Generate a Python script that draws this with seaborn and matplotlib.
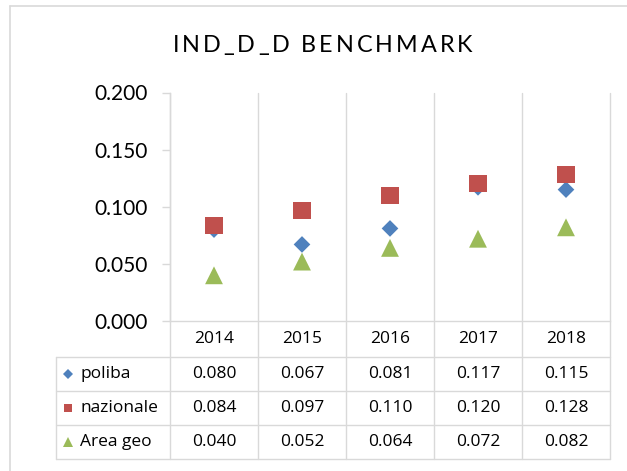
import matplotlib
matplotlib.use("Agg")
import matplotlib.pyplot as plt
import matplotlib.transforms as mtransforms
from matplotlib.lines import Line2D
from matplotlib.font_manager import FontProperties
import numpy as np
import pandas as pd
import seaborn as sns

# ---- data -------------------------------------------------------------
years = ["2014", "2015", "2016", "2017", "2018"]
series_names = ["poliba", "nazionale", "Area geo"]
poliba = [0.080, 0.067, 0.081, 0.117, 0.115]
nazionale = [0.084, 0.097, 0.110, 0.120, 0.128]
area_geo = [0.040, 0.052, 0.064, 0.072, 0.082]
y_ticks = [0.000, 0.050, 0.100, 0.150, 0.200]
title_text = "IND_D_D BENCHMARK"

# ---- style ------------------------------------------------------------
colors = {"poliba": "#4F81BD", "nazionale": "#C0504D", "Area geo": "#9BBB59"}
markers = {"poliba": "D", "nazionale": "s", "Area geo": "^"}
sizes = {"poliba": 72, "nazionale": 150, "Area geo": 165}
grid_col = "#D9D9D9"

sns.set_theme(style="white")
plt.rcParams["font.family"] = ["Lato", "DejaVu Sans"]
table_font = ["Open Sans", "DejaVu Sans"]

W, H = 627, 471
fig = plt.figure(figsize=(W / 100, H / 100), dpi=100)
fig.patch.set_facecolor("white")


def fx(px):
    return px / W


def fy(py):
    return 1 - py / H


# plot area in pixel coordinates
AX_L, AX_R, AX_T, AX_B = 170, 610, 92.5, 321
ax = fig.add_axes([fx(AX_L), fy(AX_B), (AX_R - AX_L) / W, (AX_B - AX_T) / H])
ax.set_facecolor("white")

values = {"poliba": poliba, "nazionale": nazionale, "Area geo": area_geo}
df = pd.DataFrame({
    "pos": np.tile(np.arange(len(years)), len(series_names)),
    "value": np.concatenate([values[s] for s in series_names]),
    "serie": np.repeat(series_names, len(years)),
})

sns.scatterplot(data=df, x="pos", y="value", hue="serie", style="serie",
                size="serie", palette=colors, markers=markers, sizes=sizes,
                linewidth=0, legend=False, ax=ax, zorder=5, clip_on=False)

ax.set_xlim(-0.5, len(years) - 0.5)
ax.set_ylim(0, 0.2)
ax.set_xticks([])
ax.set_yticks(y_ticks)
ax.set_yticklabels([f"{v:.3f}" for v in y_ticks])
ax.set_xlabel("")
ax.set_ylabel("")
ax.tick_params(axis="y", length=5.8, width=1.0, color=grid_col,
               labelsize=15, pad=10, left=True, labelcolor="black")
for side in ["top", "right"]:
    ax.spines[side].set_visible(False)
for side in ["left", "bottom"]:
    ax.spines[side].set_color(grid_col)
    ax.spines[side].set_linewidth(1.0)

# ---- data table -------------------------------------------------------
ROW_LINES = [357, 391, 425, 459]   # pixel rows of the table grid
TABLE_L = 56
px_h = AX_B - AX_T
yb = (AX_B - ROW_LINES[-1]) / px_h
trans = mtransforms.blended_transform_factory(ax.transData, ax.transAxes)
for i in range(len(years) + 1):
    ax.plot([i - 0.5, i - 0.5], [1, yb], transform=trans, color=grid_col,
            lw=1.0, clip_on=False, zorder=1)

for py in ROW_LINES:
    fig.add_artist(Line2D([fx(TABLE_L), fx(AX_R)], [fy(py), fy(py)],
                          color=grid_col, lw=1.0))
fig.add_artist(Line2D([fx(TABLE_L), fx(TABLE_L)], [fy(ROW_LINES[0]), fy(ROW_LINES[-1])],
                      color=grid_col, lw=1.0))

txt_size = 12.5
year_row_y = (AX_B + ROW_LINES[0]) / 2
for i, yr in enumerate(years):
    ax.text(i, (AX_B - year_row_y) / px_h, yr, transform=trans, ha="center",
            va="center", fontsize=txt_size, color="black", family=table_font)

legend_ms = {"poliba": 5.2, "nazionale": 5.8, "Area geo": 7.0}
for r, name in enumerate(series_names):
    cy = (ROW_LINES[r] + ROW_LINES[r + 1]) / 2
    for i, v in enumerate(values[name]):
        ax.text(i, (AX_B - cy) / px_h, f"{v:.3f}", transform=trans, ha="center",
                va="center", fontsize=txt_size, color="black", family=table_font)
    fig.add_artist(Line2D([fx(67.5)], [fy(cy)], marker=markers[name], ms=legend_ms[name],
                          color=colors[name], mew=0, ls="none"))
    fig.text(fx(80), fy(cy), name, ha="left", va="center", fontsize=txt_size,
             color="black", family=table_font)

# ---- chart border (top and left edges) --------------------------------
fig.add_artist(Line2D([fx(10), fx(10)], [fy(6), 0], color=grid_col, lw=1.2))
fig.add_artist(Line2D([fx(10), 1], [fy(6), fy(6)], color=grid_col, lw=1.2))

# ---- letter-spaced title ----------------------------------------------
renderer = fig.canvas.get_renderer()
title_fp = FontProperties(family=["Lato", "DejaVu Sans"], size=16.8)


def text_width(s):
    w, _, _ = renderer.get_text_width_height_descent(s, title_fp, ismath=False)
    return w


base = text_width("XX")
advances = [text_width("X" + c + "X") - base for c in title_text]
span = 300.0
track = (span - sum(advances)) / (len(title_text) - 1)
center_x = 322.5
x = center_x - span / 2
for c, adv in zip(title_text, advances):
    if c != " ":
        fig.text(fx(x + adv / 2), fy(51.7), c, ha="center", va="baseline",
                 fontproperties=title_fp, color="black")
    x += adv + track

fig.savefig("out.png", dpi=100)
